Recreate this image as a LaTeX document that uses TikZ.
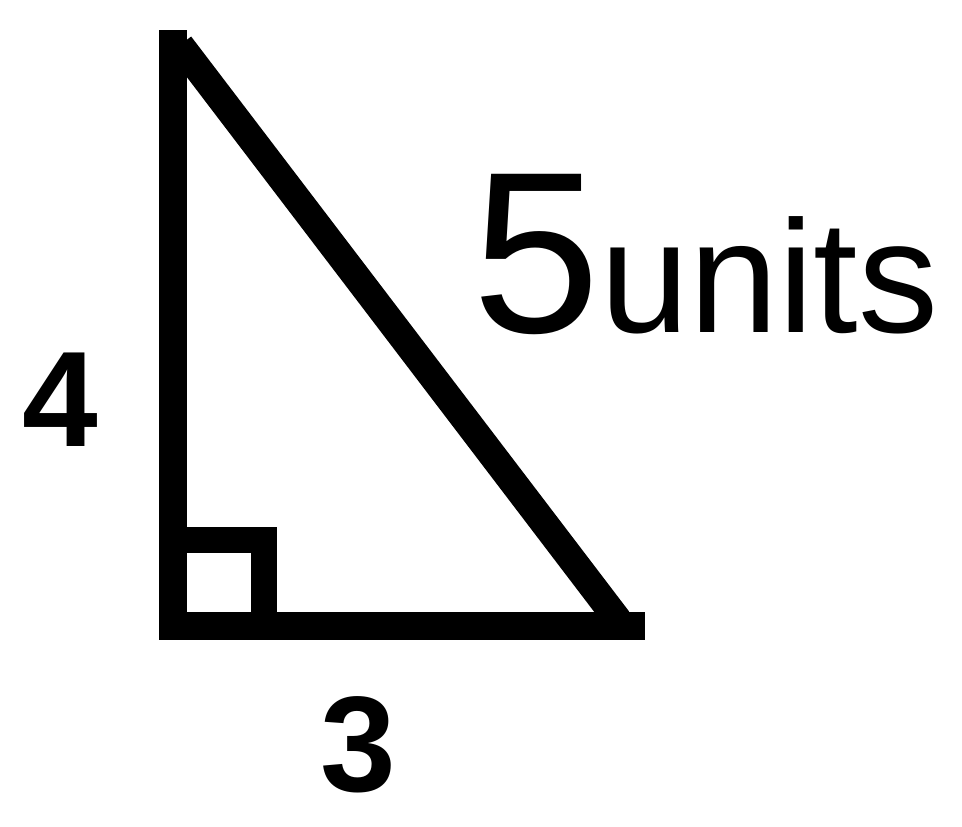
\documentclass[tikz,border=0pt]{standalone}
\usepackage{fontspec}
\setmainfont{Liberation Sans}
\begin{document}
\begin{tikzpicture}[x=1pt,y=-1pt,
  edge/.style={line width=28pt,line cap=butt,line join=miter},
  sq/.style={line width=26pt},
  num/.style={font=\fontsize{136}{136}\selectfont\bfseries,inner sep=0pt},
  hand/.style={inner sep=0pt}]
\useasboundingbox (0,0) rectangle (962,827);
\coordinate (A) at (173,30);
\coordinate (B) at (173,626);
\coordinate (C) at (645,626);
\coordinate (H1) at (180,45);
\coordinate (H2) at (618,620);
\draw[edge] (A) -- (B) -- (C);
\draw[edge] (H1) -- (H2);
\draw[sq] (173,540) -- (264,540) -- (264,626);
\node[num] (four) at (60,400) {4};
\node[num] (three) at (358,745) {3};
\node[hand,anchor=base west] (five) at (472,332)
  {{\fontsize{230}{230}\selectfont 5}{\fontsize{160}{160}\selectfont units}};
\end{tikzpicture}
\end{document}
